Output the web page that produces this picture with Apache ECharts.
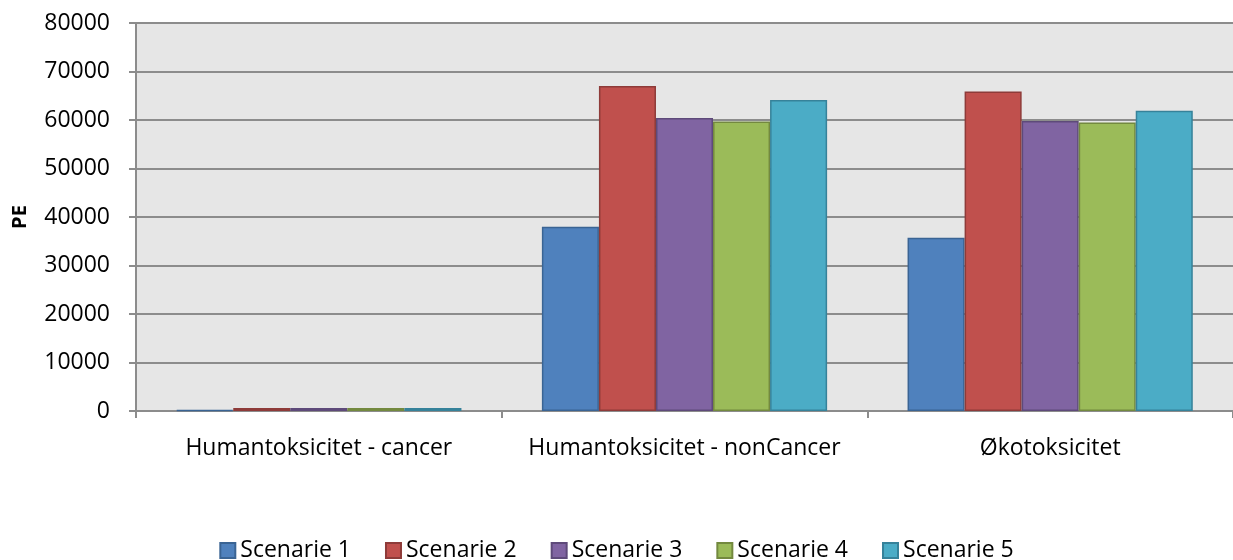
<!DOCTYPE html>
<html>
<head>
<meta charset="utf-8">
<script src="https://cdn.jsdelivr.net/npm/echarts@6/dist/echarts.min.js"></script>
<style>
  html, body { margin: 0; padding: 0; background: #fff; }
  #chart { width: 1233px; height: 560px; }
</style>
</head>
<body>
<div id="chart"></div>
<script>
// kategorier og data
const categories = ['Humantoksicitet - cancer', 'Humantoksicitet - nonCancer', 'Økotoksicitet']
const scenarie1 = [200, 38000, 35700]
const scenarie2 = [600, 67000, 65900]
const scenarie3 = [600, 60400, 59800]
const scenarie4 = [600, 59700, 59500]
const scenarie5 = [600, 64100, 61900]
const seriesNames = ['Scenarie 1', 'Scenarie 2', 'Scenarie 3', 'Scenarie 4', 'Scenarie 5']

const fills = ['#4F81BD', '#C0504D', '#8064A2', '#9BBB59', '#4BACC6']
const borders = ['#3A6494', '#8E3B39', '#5E4A7A', '#73893F', '#36829A']
const font = 'Open Sans'

const allData = [scenarie1, scenarie2, scenarie3, scenarie4, scenarie5]

const chart = echarts.init(document.getElementById('chart'))
chart.setOption({
  animation: false,
  textStyle: { fontFamily: font },
  grid: {
    left: 136, right: 0, top: 23, bottom: 149,
    outerBoundsMode: 'none',
    containLabel: false,
    show: true, backgroundColor: '#E6E6E6', borderWidth: 0
  },
  legend: {
    top: 534,
    left: 'center',
    itemWidth: 15,
    itemHeight: 15,
    itemGap: 34,
    icon: 'rect',
    textStyle: { fontSize: 23, color: '#000', fontFamily: font },
    data: seriesNames
  },
  xAxis: {
    type: 'category',
    data: categories,
    axisLine: { lineStyle: { color: '#8C8C8C', width: 2 } },
    axisTick: { show: true, length: 7, lineStyle: { color: '#8C8C8C', width: 2 } },
    axisLabel: { fontSize: 23, color: '#000', margin: 26, interval: 0, fontFamily: font },
    splitLine: { show: false }
  },
  yAxis: {
    type: 'value',
    min: 0,
    max: 80000,
    interval: 10000,
    name: 'PE',
    nameLocation: 'middle',
    nameGap: 106,
    nameTextStyle: { fontSize: 20, fontWeight: 'bold', color: '#000', fontFamily: font },
    axisLine: { show: true, lineStyle: { color: '#8C8C8C', width: 2 } },
    axisTick: { show: true, length: 7, lineStyle: { color: '#8C8C8C', width: 2 } },
    axisLabel: { fontSize: 23, color: '#000', margin: 26, fontFamily: font, formatter: v => String(v) },
    splitLine: { lineStyle: { color: '#8C8C8C', width: 2 } }
  },
  series: seriesNames.map((name, i) => ({
    name: name,
    type: 'bar',
    data: allData[i],
    barGap: '0%',
    barCategoryGap: '22%',
    itemStyle: { color: fills[i], borderColor: borders[i], borderWidth: 1.5 }
  }))
})
</script>
</body>
</html>
